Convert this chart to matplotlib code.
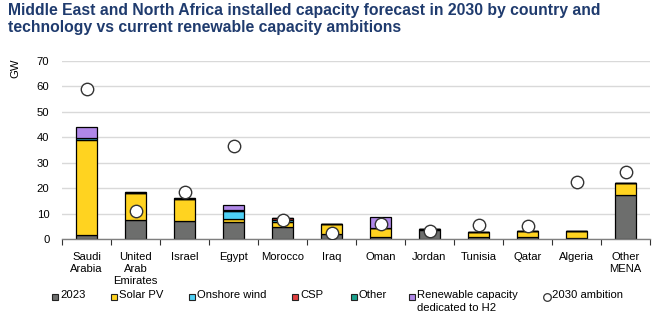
import matplotlib
matplotlib.use("Agg")
import matplotlib.pyplot as plt
import numpy as np
from matplotlib.patches import Rectangle
from matplotlib.lines import Line2D

plt.rcParams['font.family'] = ['Liberation Sans', 'DejaVu Sans']

countries = ["Saudi\nArabia", "United\nArab\nEmirates", "Israel", "Egypt", "Morocco", "Iraq",
             "Oman", "Jordan", "Tunisia", "Qatar", "Algeria", "Other\nMENA"]
cap_2023 = [1.4, 7.3, 6.9, 6.8, 4.6, 2.0, 0.9, 3.5, 0.7, 0.9, 0.5, 17.1]
solar_pv = [37.3, 10.6, 8.7, 1.2, 1.9, 3.9, 3.3, 0.3, 1.9, 2.1, 2.5, 4.8]
onshore_wind = [1.1, 0.0, 0.0, 2.9, 1.1, 0.0, 0.0, 0.0, 0.0, 0.0, 0.0, 0.0]
csp = [0.0, 0.0, 0.0, 0.0, 0.5, 0.0, 0.0, 0.0, 0.0, 0.0, 0.0, 0.0]
other = [0.0, 0.4, 0.4, 0.5, 0.0, 0.0, 0.0, 0.0, 0.0, 0.0, 0.0, 0.0]
h2 = [4.0, 0.0, 0.0, 1.8, 0.0, 0.0, 4.3, 0.0, 0.0, 0.0, 0.0, 0.0]
ambition_2030 = [58.9, 10.9, 18.6, 36.5, 7.5, 2.2, 5.8, 3.3, 5.4, 5.1, 22.4, 26.2]

series_names = ["2023", "Solar PV", "Onshore wind", "CSP", "Other",
                "Renewable capacity\ndedicated to H2"]
series_vals = [cap_2023, solar_pv, onshore_wind, csp, other, h2]
colors = ["#6d6e6d", "#ffd320", "#4dd0f5", "#e04040", "#1aa08c", "#b088e8"]

fs = 8.1

fig = plt.figure(figsize=(6.59, 3.23), dpi=100)
ax = fig.add_axes([62/659, 1-239/323, (650-62)/659, (239-60.7)/323])

x = np.arange(len(countries))
bottom = np.zeros(len(countries))
for vals, col in zip(series_vals, colors):
    v = np.array(vals)
    ax.bar(x, v, width=0.42, bottom=bottom, color=col, edgecolor="black", linewidth=0.9, zorder=3)
    bottom += v

ax.scatter(x, ambition_2030, s=80, facecolor="white", edgecolor="#333333", linewidth=1.0, zorder=5)

ax.set_xlim(-0.5, len(countries) - 0.5)
ax.set_ylim(0, 70)
ax.set_yticks(np.arange(0, 71, 10))
ax.grid(axis="y", color="#d9d9d9", linewidth=1.0, zorder=0)
ax.set_axisbelow(True)
for s in ["top", "right", "left"]:
    ax.spines[s].set_visible(False)
ax.spines["bottom"].set_color("#7f7f7f")
ax.spines["bottom"].set_linewidth(1.0)
ax.spines["bottom"].set_zorder(4)

ax.set_xticks(x)
ax.set_xticklabels(countries, fontsize=fs, linespacing=1.3, va="top")
ax.set_xticks(np.arange(-0.5, len(countries), 1.0), minor=True)
ax.tick_params(axis="x", which="major", length=0, pad=9)
ax.tick_params(axis="x", which="minor", length=4, color="#333333", width=0.8, direction="out")
ax.tick_params(axis="y", length=0, pad=9, labelsize=fs)

fig.text(15/659, 1-68/323, "GW", rotation=90, fontsize=fs, ha="center", va="center")

fig.text(8/659, 1-3/323,
         "Middle East and North Africa installed capacity forecast in 2030 by country and\n"
         "technology vs current renewable capacity ambitions",
         fontsize=11.3, fontweight="bold", color="#1f3b6e", ha="left", va="top", linespacing=1.15)

# Legend (manual layout to match reference)
leg_x = [55, 114, 192, 295, 354, 412]
leg_y = 297
sq = 6.5
for lx, name, col in zip(leg_x, series_names, colors):
    fig.patches.append(Rectangle(((lx - sq/2)/659, 1-(leg_y + sq/2)/323), sq/659, sq/323,
                                 transform=fig.transFigure, facecolor=col, edgecolor="#222222",
                                 linewidth=0.8))
    fig.text((lx + 5)/659, 1-(leg_y - 6.5)/323, name, fontsize=fs, ha="left", va="top",
             linespacing=1.3)
fig.add_artist(Line2D([547/659], [1-leg_y/323], marker="o", markersize=5.5, markerfacecolor="white",
                      markeredgecolor="#333333", markeredgewidth=0.9, linestyle="none",
                      transform=fig.transFigure))
fig.text((547 + 5)/659, 1-(leg_y - 6.5)/323, "2030 ambition", fontsize=fs, ha="left", va="top")

fig.savefig("out.png", dpi=100)
